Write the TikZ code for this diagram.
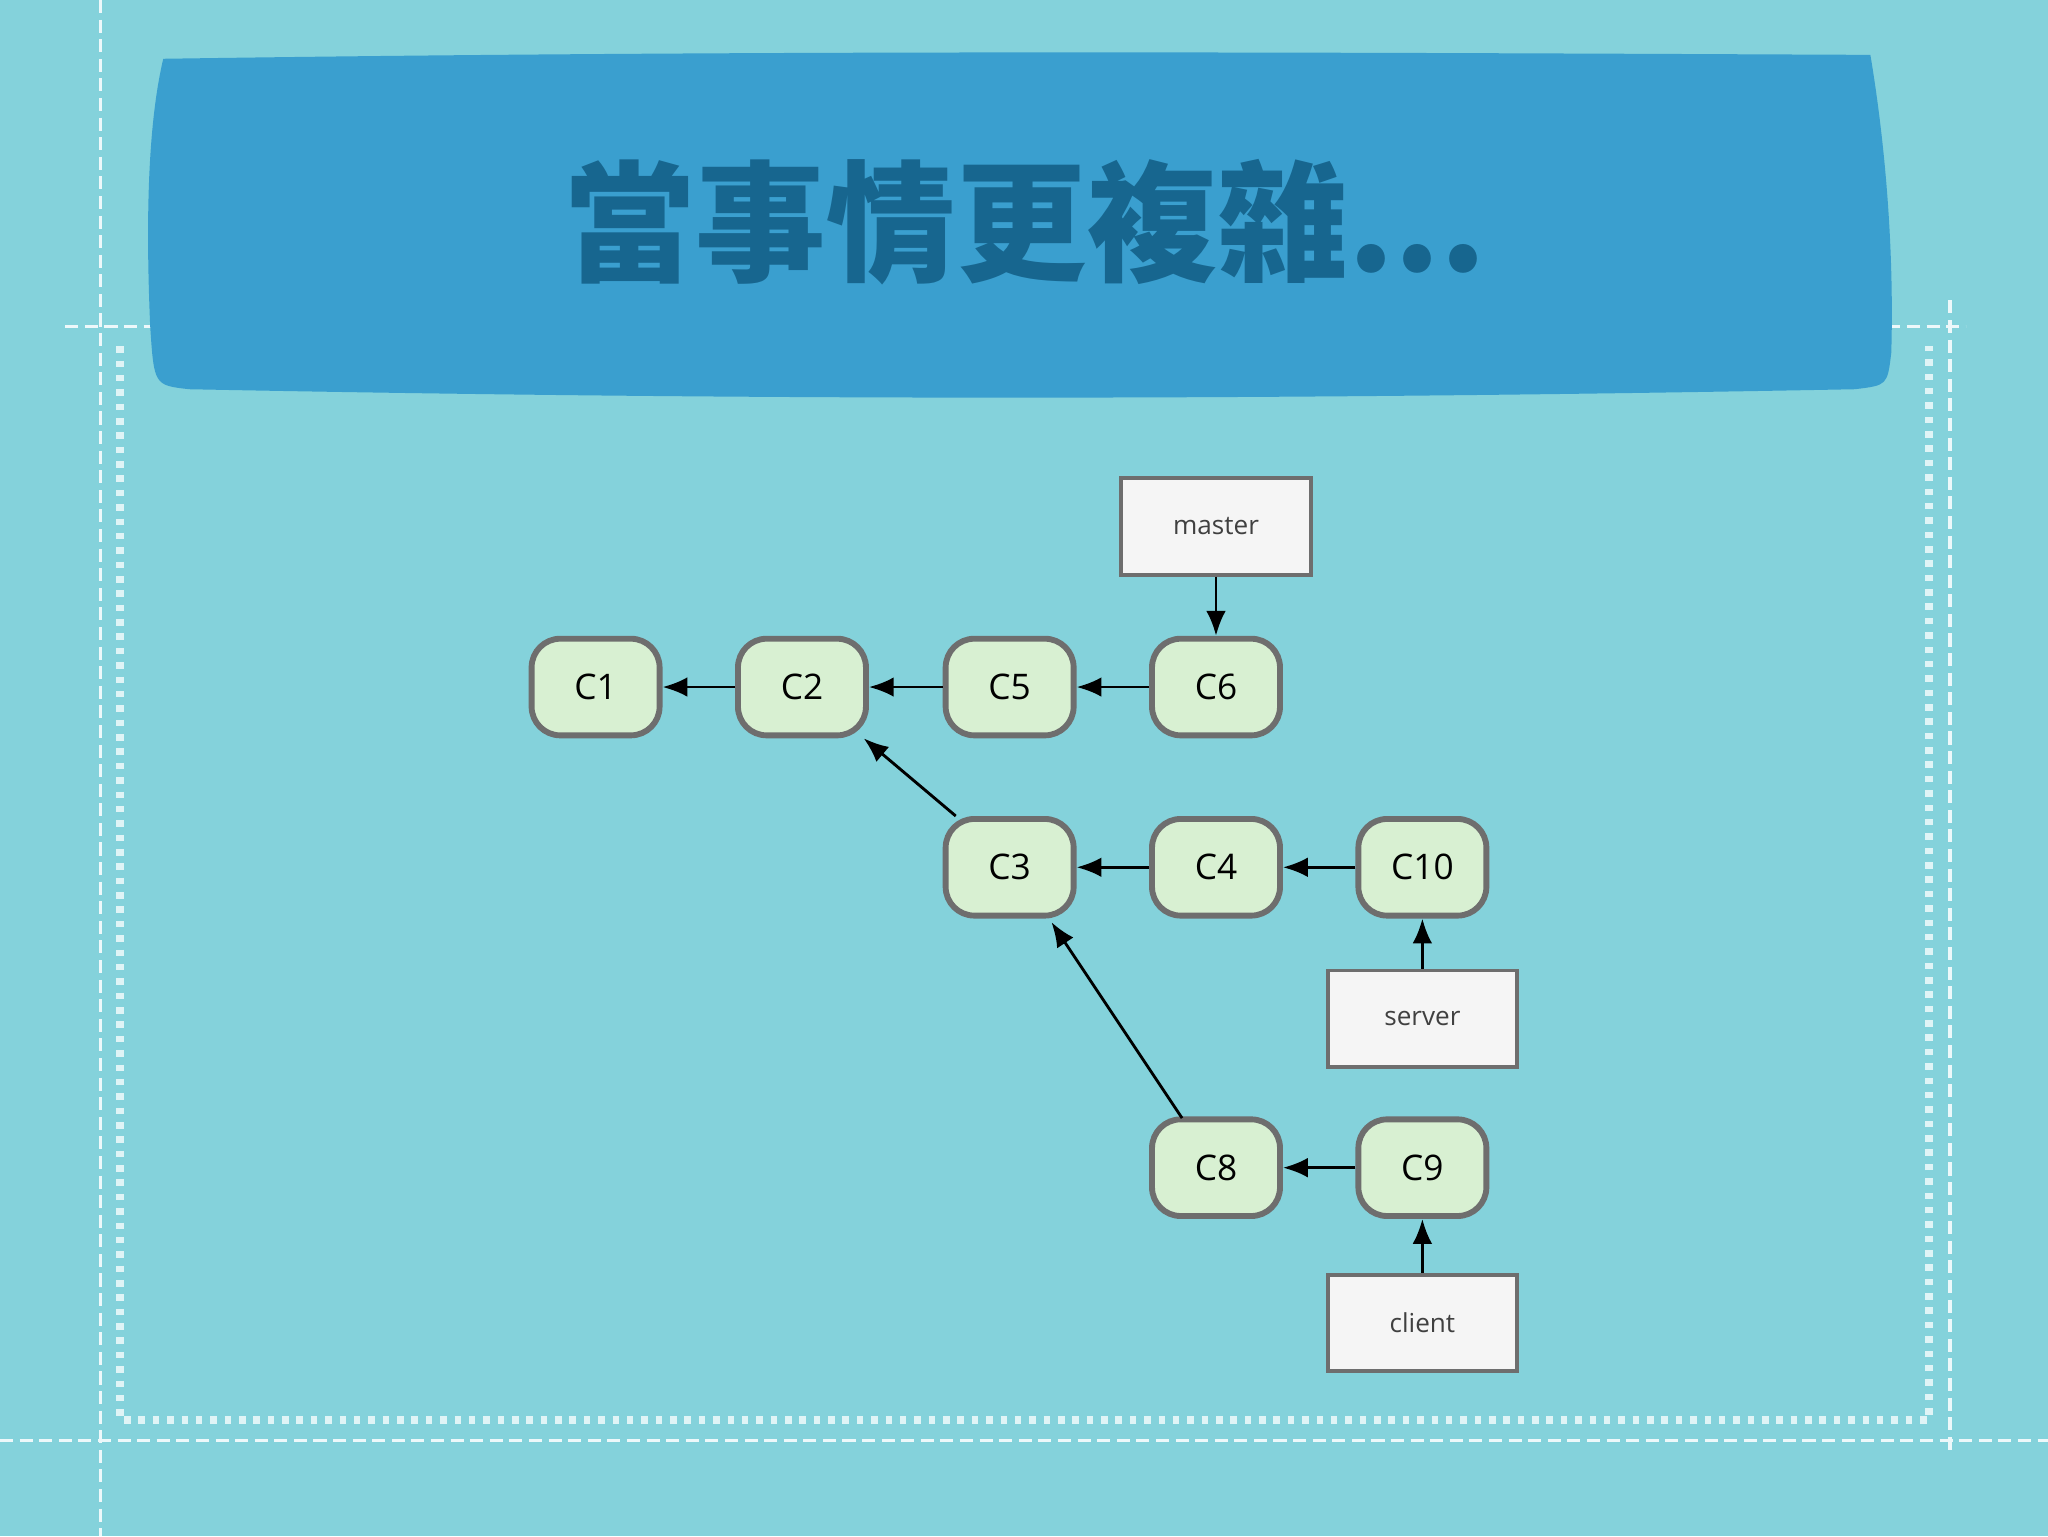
\documentclass[tikz,border=0pt]{standalone}
\usepackage{fontspec}
\setmainfont{Open Sans}
\newfontfamily\cjk{Noto Sans CJK TC}
\usetikzlibrary{arrows.meta}
\definecolor{bg}{HTML}{84D2DB}
\definecolor{banner}{HTML}{3A9FCF}
\definecolor{titlec}{HTML}{17668F}
\definecolor{cfill}{HTML}{D8F0D2}
\definecolor{edge}{HTML}{6E6E6E}
\tikzset{
 commit/.style={draw=edge,line width=4.5pt,fill=cfill,rounded corners=22pt,minimum width=98pt,minimum height=74pt,font=\fontsize{27}{30}\selectfont,inner sep=0pt},
 ref/.style={draw=edge,line width=3pt,fill=white!92!gray,minimum width=145pt,minimum height=74pt,font=\fontsize{20}{22}\selectfont\color{darkgray},inner sep=0pt},
 arr/.style={line width=2.2pt,-{Latex[length=19pt,width=15pt]}},
 dl/.style={white!85!bg,line width=2.5pt,dash pattern=on 10pt off 5pt},
}
\begin{document}
\begin{tikzpicture}[x=1pt,y=-1pt]
\fill[bg] (0,0) rectangle (1568,1176);
\useasboundingbox (0,0) rectangle (1568,1176);
\draw[dl] (77,0) -- (77,1176);
\draw[dl] (50,250) -- (1505,250);
\draw[dl] (0,1103) -- (1568,1103);
\draw[dl] (1493,230) -- (1493,1110);
\draw[white!75!bg,line width=6pt,dash pattern=on 5pt off 6pt] (92,265) -- (92,1087) -- (1477,1087) -- (1477,265);
\fill[banner] (125,45) .. controls (600,38) and (1000,40) .. (1432,42) .. controls (1445,120) and (1450,200) .. (1448,270) .. controls (1445,295) .. (1420,298) .. controls (900,308) and (500,305) .. (145,298) .. controls (118,295) .. (115,250) .. controls (112,180) and (112,100) .. (125,45) -- cycle;
\node (title) at (785,170) {\cjk\bfseries\fontsize{100}{104}\selectfont\color{titlec}當事情更複雜...};
\node[commit] (c1) at (456,526) {C1};
\node[commit] (c2) at (614,526) {C2};
\node[commit] (c5) at (773,526) {C5};
\node[commit] (c6) at (931,526) {C6};
\node[commit] (c3) at (773,664) {C3};
\node[commit] (c4) at (931,664) {C4};
\node[commit] (c10) at (1089,664) {C10};
\node[commit] (c8) at (931,894) {C8};
\node[commit] (c9) at (1089,894) {C9};
\node[ref] (master) at (931,403) {master};
\node[ref] (server) at (1089,780) {server};
\node[ref] (client) at (1089,1013) {client};
\coordinate (c8top) at (905,856);
\coordinate (c3bot) at (805,706);
\draw[arr] (c2) -- (c1);
\draw[arr] (c5) -- (c2);
\draw[arr] (c6) -- (c5);
\draw[arr] (master) -- (c6);
\draw[arr] ([xshift=10pt]c3.north west) -- ([xshift=-4pt]c2.south east);
\draw[arr] (c4) -- (c3);
\draw[arr] (c10) -- (c4);
\draw[arr] (server) -- (c10);
\draw[arr] (c8top) -- (c3bot);
\draw[arr] (c9) -- (c8);
\draw[arr] (client) -- (c9);
\end{tikzpicture}
\end{document}
